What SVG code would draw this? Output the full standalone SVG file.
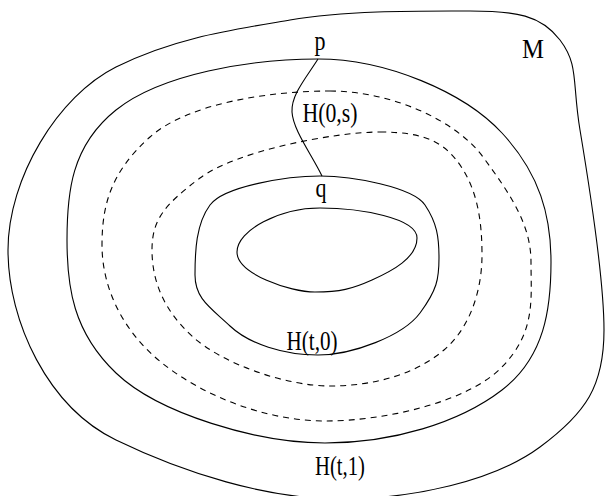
<svg xmlns="http://www.w3.org/2000/svg" width="605" height="496" viewBox="0 0 605 496">
<style>
.c{fill:none;stroke:#000;stroke-width:1.1}
.d{fill:none;stroke:#000;stroke-width:1.1;stroke-dasharray:6,5}
.t{font-family:"Liberation Serif","Times New Roman",serif;font-size:27px;fill:#000;text-anchor:middle}
</style>
<rect width="605" height="496" fill="#fff"/>
<g id="manifold">
<path class="c" d="M470,11 C516,11 541,15 560,40 S572,82 580,130 S604,274 604,330 S586,413 540,447 S413,499 340,499 S184,473 116,440 S8,322 8,250 S58,96 116,67 S231,30 290,20 S424,11 470,11 Z"/>
</g>
<g id="loop-t1">
<path class="c" d="M318,59 C386,59 464,92 502,133 S551,216 551,262 S545,357 502,390 S392,443 325,443 S159,414 116,373 S67,287 67,240 S71,146 116,110 S250,59 318,59 Z"/>
</g>
<g id="loop-dashed-outer">
<path class="d" d="M330,91 C389,91 455,119 483,157 S531,225 531,262 S536,332 502,367 S385,421 325,421 S202,395 162,363 S102,287 102,245 S112,171 150,137 S271,91 330,91 Z"/>
</g>
<g id="loop-dashed-inner">
<path class="d" d="M380,132 C426,132 446,143 462,168 S482,223 482,255 S472,326 444,350 S374,386 330,386 S223,364 193,337 S152,280 152,250 S164,205 200,178 S334,132 380,132 Z"/>
</g>
<g id="loop-t0">
<path class="c" d="M320,176 C352,176 413,187 425,205 S439,237 439,258 S437,290 420,313 S352,355 318,355 S249,344 230,326 S195,299 195,275 S196,224 210,205 S288,176 320,176 Z"/>
</g>
<g id="hole">
<path class="c" d="M320,208 C360,208 417,218 417,238 S392,271 372,280 S340,292 315,292 S237,274 237,252 S280,208 320,208 Z"/>
</g>
<g id="connectors">
<path class="c" d="M318,59 C306,78 291,95 292,112 C293,130 312,155 322,176"/>
</g>
<g id="labels">
<text class="t" x="533" y="58" font-size="28" textLength="22" lengthAdjust="spacingAndGlyphs">M</text>
<text class="t" x="320" y="50" textLength="11" lengthAdjust="spacingAndGlyphs">p</text>
<text class="t" x="330" y="122" textLength="55" lengthAdjust="spacingAndGlyphs">H(0,s)</text>
<text class="t" x="321" y="197" textLength="11" lengthAdjust="spacingAndGlyphs">q</text>
<text class="t" x="312" y="350" textLength="51" lengthAdjust="spacingAndGlyphs">H(t,0)</text>
<text class="t" x="340" y="475" textLength="50" lengthAdjust="spacingAndGlyphs">H(t,1)</text>
</g>
</svg>
